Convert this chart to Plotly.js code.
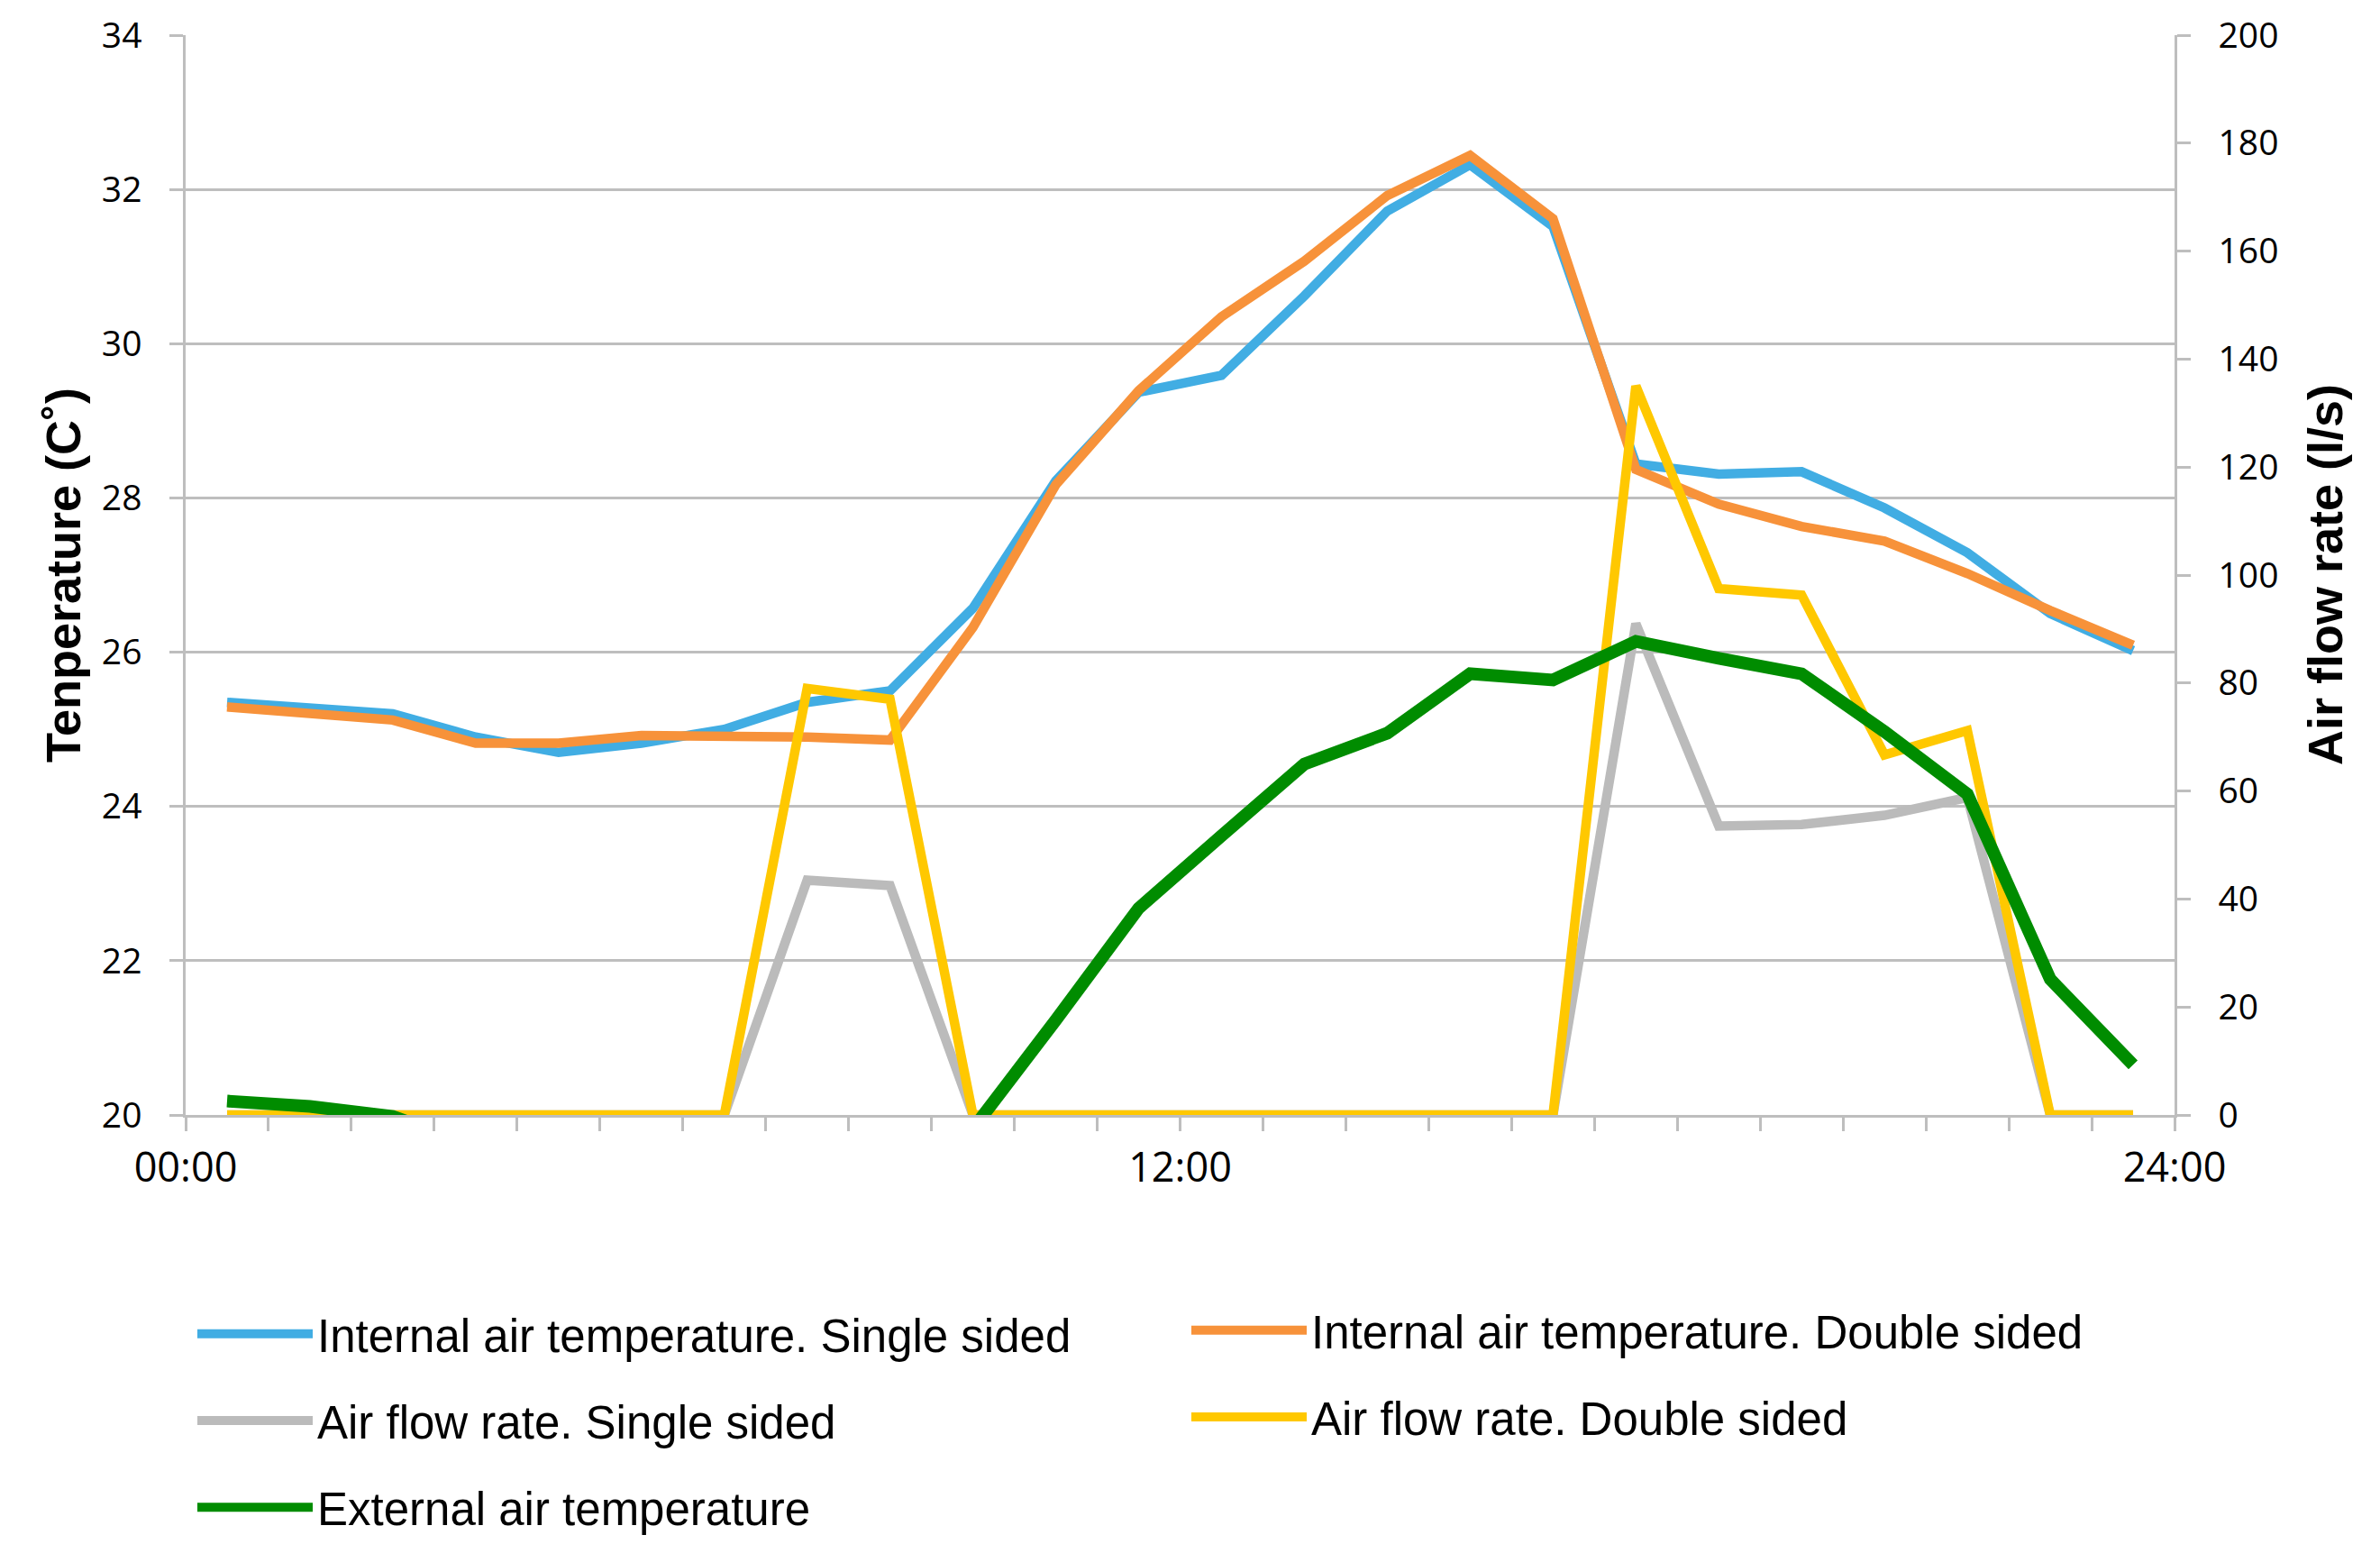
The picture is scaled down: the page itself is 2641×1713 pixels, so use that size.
<!DOCTYPE html>
<html lang="en">
<head>
<meta charset="utf-8">
<title>Internal / external air temperature and air flow rate</title>
<script src="https://cdn.plot.ly/plotly-3.0.1.min.js"></script>
<style>
  html, body { margin: 0; padding: 0; background: #ffffff; }
  #grafico { width: 2641px; height: 1713px; }
</style>
</head>
<body>
<div id="grafico"></div>
<script>
// ============================================
// Datos (un valor por hora, en la media hora)
// ============================================
const horas = [0.5, 1.5, 2.5, 3.5, 4.5, 5.5, 6.5, 7.5, 8.5, 9.5, 10.5, 11.5,
               12.5, 13.5, 14.5, 15.5, 16.5, 17.5, 18.5, 19.5, 20.5, 21.5, 22.5, 23.5];

// Temperatura interior (°C), eje izquierdo
const tempInternaSimple = [25.35, 25.27, 25.2, 24.9, 24.7, 24.82, 25.0, 25.35, 25.5, 26.57, 28.22, 29.37,
                           29.59, 30.62, 31.72, 32.32, 31.52, 28.44, 28.31, 28.34, 27.87, 27.29, 26.5, 26.02];
const tempInternaDoble = [25.29, 25.22, 25.12, 24.82, 24.82, 24.92, 24.92, 24.9, 24.86, 26.32, 28.17, 29.39,
                          30.35, 31.07, 31.92, 32.44, 31.62, 28.37, 27.92, 27.63, 27.44, 27.02, 26.54, 26.09];

// Temperatura exterior (°C); los valores bajo 20 quedan fuera del eje
const tempExterior = [20.18, 20.11, 19.98, 19.6, 19.4, 19.2, 19.1, 19.2, 19.5, 19.82, 21.23, 22.68,
                      23.62, 24.55, 24.95, 25.72, 25.64, 26.14, 25.92, 25.72, 24.97, 24.16, 21.76, 20.65];

// Caudal de aire (l/s), eje derecho
const caudalSimple = [0, 0, 0, 0, 0, 0, 0, 43.5, 42.5, 0, 0, 0,
                      0, 0, 0, 0, 0, 91, 53.5, 53.8, 55.5, 58.8, 0, 0];
const caudalDoble = [0, 0, 0, 0, 0, 0, 0, 79, 77, 0, 0, 0,
                     0, 0, 0, 0, 0, 135, 97.5, 96.3, 66.7, 71.2, 0, 0];

// Marcas del eje X: una por hora, etiqueta solo cada 12 h
const ticksHoras = [0, 1, 2, 3, 4, 5, 6, 7, 8, 9, 10, 11, 12,
                    13, 14, 15, 16, 17, 18, 19, 20, 21, 22, 23, 24];
const horasConEtiqueta = [0, 12, 24];
const etiquetasHoras = ['00:00', '12:00', '24:00'];

// ============================================
// Estilos comunes
// ============================================
const GRIS_EJE = '#BEBEBE';
const FUENTE_TICKS = '"Open Sans", sans-serif';
const FUENTE_TEXTO = '"Liberation Sans", Arial, sans-serif';

const textoTicksX = ticksHoras.map(h => {
    const i = horasConEtiqueta.indexOf(h);
    return i >= 0 ? etiquetasHoras[i] : '';
});

const ejeBase = {
    ticks: 'outside',
    ticklen: 15,
    tickwidth: 2.5,
    tickcolor: GRIS_EJE,
    showline: true,
    linecolor: GRIS_EJE,
    linewidth: 2.5,
    zeroline: false,
    automargin: false,
    tickfont: { family: FUENTE_TICKS, size: 39, color: '#000000' }
};

// Títulos de los ejes como anotaciones (posición exacta fuera del área)
const tituloEje = (texto, xPapel) => ({
    text: texto,
    xref: 'paper', yref: 'paper',
    x: xPapel, y: 0.5,
    xanchor: 'center', yanchor: 'middle',
    textangle: -90,
    showarrow: false,
    font: { family: FUENTE_TEXTO, size: 54, color: '#000000', weight: 'bold' }
});

// ============================================
// Trazas (orden = orden de dibujo)
// ============================================
const trazas = [
    {
        x: horas, y: tempInternaSimple, type: 'scatter', mode: 'lines',
        name: 'Internal air temperature. Single sided',
        line: { color: '#41ADE3', width: 10.5 },
        yaxis: 'y', legend: 'legend', legendgroup: 'g1'
    },
    {
        x: horas, y: tempInternaDoble, type: 'scatter', mode: 'lines',
        name: 'Internal air temperature. Double sided',
        line: { color: '#F7923A', width: 10.5 },
        yaxis: 'y', legend: 'legend2', legendgroup: 'g2'
    },
    {
        x: horas, y: caudalSimple, type: 'scatter', mode: 'lines',
        name: 'Air flow rate. Single sided',
        line: { color: '#BBBBBB', width: 10.5 },
        yaxis: 'y2', legend: 'legend', legendgroup: 'g3'
    },
    {
        x: horas, y: caudalDoble, type: 'scatter', mode: 'lines',
        name: 'Air flow rate. Double sided',
        line: { color: '#FFC800', width: 10.5 },
        yaxis: 'y2', legend: 'legend2', legendgroup: 'g4'
    },
    {
        // eje y3 = mismo rango que y, solo para que la línea verde quede encima
        x: horas, y: tempExterior, type: 'scatter', mode: 'lines',
        name: 'External air temperature',
        line: { color: '#008C00', width: 14 },
        yaxis: 'y3', legend: 'legend', legendgroup: 'g5'
    }
];

const leyendaBase = {
    xref: 'container',
    yref: 'container',
    xanchor: 'left',
    yanchor: 'top',
    orientation: 'v',
    bgcolor: 'rgba(0,0,0,0)',
    itemwidth: 128,
    tracegroupgap: 27,
    font: { family: FUENTE_TEXTO, size: 51, color: '#000000' }
};

const layout = {
    width: 2641,
    height: 1713,
    paper_bgcolor: '#ffffff',
    plot_bgcolor: '#ffffff',
    margin: { l: 206, r: 228, t: 39, b: 476, autoexpand: false },
    showlegend: true,
    xaxis: {
        ...ejeBase,
        range: [0, 24],
        tickmode: 'array',
        tickvals: ticksHoras,
        ticktext: textoTicksX,
        tickangle: 0,
        showgrid: false,
        ticklabelstandoff: 2,
        tickfont: { family: FUENTE_TICKS, size: 45, color: '#000000' }
    },
    yaxis: {
        ...ejeBase,
        range: [20, 34],
        tick0: 20,
        dtick: 2,
        showgrid: true,
        gridcolor: GRIS_EJE,
        gridwidth: 2.5,
        ticklabelstandoff: 23
    },
    yaxis2: {
        ...ejeBase,
        overlaying: 'y',
        side: 'right',
        range: [0, 200],
        tick0: 0,
        dtick: 20,
        showgrid: false,
        ticklabelstandoff: 23
    },
    yaxis3: {
        overlaying: 'y',
        range: [20, 34],
        visible: false
    },
    annotations: [
        tituloEje('Tenperature (C˚)', (70 - 206) / 2207),
        tituloEje('Air flow rate (l/s)', (2580 - 206) / 2207)
    ],
    legend: { ...leyendaBase, x: 214 / 2641, y: 1 - 1440 / 1713 },
    legend2: { ...leyendaBase, x: 1317 / 2641, y: 1 - 1436 / 1713 }
};

Plotly.newPlot('grafico', trazas, layout, { displayModeBar: false, responsive: false });
</script>
</body>
</html>
